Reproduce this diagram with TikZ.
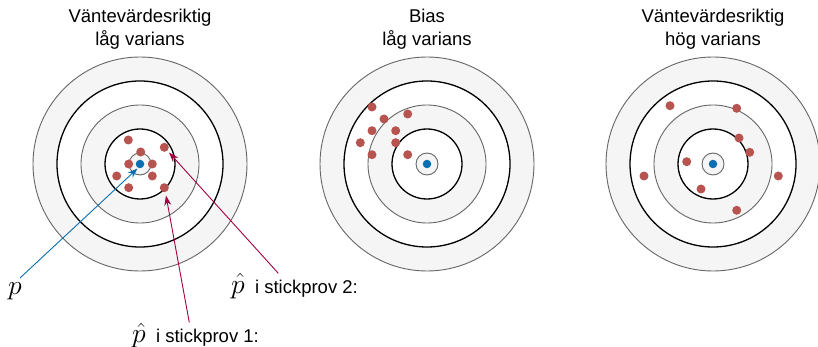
\documentclass[tikz,border=0pt]{standalone}
\usepackage{graphicx}
\usepackage{fontspec}
\setmainfont{Liberation Sans}
\usetikzlibrary{arrows.meta}
\definecolor{ringgray}{HTML}{666666}
\definecolor{ringfill}{HTML}{F5F5F5}
\definecolor{dotred}{HTML}{B85450}
\definecolor{dotblue}{HTML}{0A6EB0}
\definecolor{arrred}{HTML}{A50040}
\tikzset{
  grayring/.style={draw=ringgray, fill=ringfill, line width=0.9pt},
  blackring/.style={draw=black, fill=white, line width=1.3pt},
  reddot/.style={circle, fill=dotred, inner sep=0pt, minimum size=9pt},
  bluedot/.style={circle, fill=dotblue, inner sep=0pt, minimum size=8.5pt},
  title/.style={align=center, font=\fontsize{18.5}{23}\selectfont},
  lbl/.style={font=\fontsize{18.5}{22}\selectfont, inner sep=0pt},
  redarrow/.style={draw=arrred, line width=0.9pt, -{Stealth[length=10pt,width=7pt]}},
  bluearrow/.style={draw=dotblue, line width=0.9pt, -{Stealth[length=10pt,width=7pt]}},
}
\newcommand{\mytarget}[1]{%
  \draw[grayring] (#1) circle (107);
  \draw[blackring] (#1) circle (83);
  \draw[grayring] (#1) circle (59);
  \draw[blackring] (#1) circle (35);
  \draw[grayring] (#1) circle (11);
}
\newcommand{\bigmath}[1]{\scalebox{1.6}{$#1$}}
\begin{document}
\begin{tikzpicture}[x=1pt,y=-1pt]
\useasboundingbox (0,0) rectangle (818,347);
\coordinate (c1) at (140,164);
\coordinate (c2) at (427,164);
\coordinate (c3) at (713,164);
\mytarget{c1}
\mytarget{c2}
\mytarget{c3}
% titles
\node[title] (t1) at (140,29) {Väntevärdesriktig\\låg varians};
\node[title] (t2) at (427,29) {Bias\\låg varians};
\node[title] (t3) at (713,29) {Väntevärdesriktig\\hög varians};
% centre dots
\node[bluedot] (b1) at (c1) {};
\node[bluedot] (b2) at (c2) {};
\node[bluedot] (b3) at (c3) {};
% target 1 samples
\node[reddot] (a1) at (128.3,140) {};
\node[reddot] (a2) at (164.3,147.3) {};
\node[reddot] (a3) at (140.7,152) {};
\node[reddot] (a4) at (128.7,164) {};
\node[reddot] (a5) at (152.3,164) {};
\node[reddot] (a6) at (116.7,176) {};
\node[reddot] (a7) at (152.3,176) {};
\node[reddot] (a8) at (128.7,187.7) {};
\node[reddot] (a9) at (164.3,187.7) {};
% target 2 samples
\node[reddot] (d1) at (372,107) {};
\node[reddot] (d2) at (407.7,114) {};
\node[reddot] (d3) at (384,119) {};
\node[reddot] (d4) at (372,130.7) {};
\node[reddot] (d5) at (395.7,130.7) {};
\node[reddot] (d6) at (360.3,142.7) {};
\node[reddot] (d7) at (395.7,142.7) {};
\node[reddot] (d8) at (372,154.7) {};
\node[reddot] (d9) at (407.7,154.7) {};
% target 3 samples
\node[reddot] (e1) at (670,105.7) {};
\node[reddot] (e2) at (736.7,108.3) {};
\node[reddot] (e3) at (739,138) {};
\node[reddot] (e4) at (749.7,152.3) {};
\node[reddot] (e5) at (686.7,161.7) {};
\node[reddot] (e6) at (644,176) {};
\node[reddot] (e7) at (778.3,176) {};
\node[reddot] (e8) at (701,189) {};
\node[reddot] (e9) at (736.7,210.3) {};
% labels
\node[lbl, anchor=base west] (lp) at (8,294) {\bigmath{p}};
\node[lbl, anchor=base west] (l2) at (231,293) {\bigmath{\hat{p}}\ \ i stickprov 2:};
\node[lbl, anchor=base west] (l1) at (132,342) {\bigmath{\hat{p}}\ \ i stickprov 1:};
% arrow ends
\coordinate (sp) at (20,278);
\coordinate (s1) at (189.3,322.5);
\coordinate (s2) at (278.3,273.3);
\coordinate (tp) at (137.5,168.5);
\coordinate (t1e) at (166,195.5);
\coordinate (t2e) at (169,152.5);
\draw[bluearrow] (sp) -- (tp);
\draw[redarrow] (s1) -- (t1e);
\draw[redarrow] (s2) -- (t2e);
\end{tikzpicture}
\end{document}
